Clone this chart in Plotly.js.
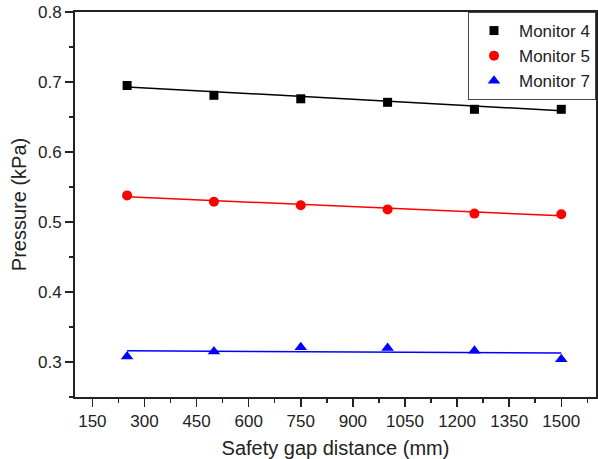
<!DOCTYPE html>
<html><head><meta charset="utf-8">
<script src="https://cdn.plot.ly/plotly-3.0.1.min.js"></script>
<style>html,body{margin:0;padding:0;background:#fff}#chart{width:598px;height:459px}</style>
</head><body><div id="chart"></div>
<script>
const distance = [250, 500, 750, 1000, 1250, 1500];
const monitor4 = [0.695, 0.681, 0.676, 0.671, 0.661, 0.661];
const monitor5 = [0.538, 0.529, 0.524, 0.518, 0.512, 0.511];
const monitor7 = [0.308, 0.315, 0.321, 0.320, 0.316, 0.304];
const fitX = [250, 1500];
const fit4 = [0.693, 0.659];
const fit5 = [0.536, 0.509];
const fit7 = [0.316, 0.313];
const xTicks = [150, 300, 450, 600, 750, 900, 1050, 1200, 1350, 1500];
const yTicks = [0.3, 0.4, 0.5, 0.6, 0.7, 0.8];

const font = 'Liberation Sans, Arial, sans-serif';
const traces = [
  {x: fitX, y: fit4, mode: 'lines', line: {color: '#000', width: 1.5}, showlegend: false, hoverinfo: 'skip'},
  {x: fitX, y: fit5, mode: 'lines', line: {color: '#ff0000', width: 1.5}, showlegend: false, hoverinfo: 'skip'},
  {x: fitX, y: fit7, mode: 'lines', line: {color: '#0000ff', width: 1.5}, showlegend: false, hoverinfo: 'skip'},
  {x: distance, y: monitor4, mode: 'markers', name: 'Monitor 4', marker: {symbol: 'square', size: 9, color: '#000'}},
  {x: distance, y: monitor5, mode: 'markers', name: 'Monitor 5', marker: {symbol: 'circle', size: 10, color: '#ff0000'}},
  {x: distance, y: monitor7, mode: 'markers', name: 'Monitor 7', marker: {symbol: 'triangle-up', size: 11, color: '#0000ff'}}
];
const layout = {
  width: 598, height: 459,
  margin: {l: 75, r: 2, t: 12, b: 62},
  paper_bgcolor: '#fff', plot_bgcolor: '#fff',
  font: {family: font, color: '#222', size: 17},
  showlegend: true,
  legend: {x: 1, xanchor: 'right', y: 1, yanchor: 'top', bordercolor: '#444', borderwidth: 1,
           bgcolor: '#fff', font: {size: 17, family: font, color: '#222'}, tracegroupgap: 0,
           itemwidth: 40},
  xaxis: {
    range: [100, 1600], tickvals: xTicks, ticktext: xTicks.map(String),
    ticks: 'outside', ticklen: 8, tickwidth: 1.5, tickcolor: '#222',
    showline: true, linecolor: '#222', linewidth: 2, mirror: true,
    showgrid: false, zeroline: false,
    minor: {dtick: 75, tick0: 75, ticks: 'outside', ticklen: 4, tickwidth: 1.5, tickcolor: '#222', showgrid: false},
    tickfont: {size: 17, family: font},
    title: {text: 'Safety gap distance (mm)', font: {size: 20, family: font}, standoff: 12}
  },
  yaxis: {
    range: [0.25, 0.8], tickvals: yTicks, ticktext: yTicks.map(v => v.toFixed(1)),
    ticks: 'outside', ticklen: 8, tickwidth: 1.5, tickcolor: '#222',
    showline: true, linecolor: '#222', linewidth: 2, mirror: true,
    showgrid: false, zeroline: false,
    minor: {dtick: 0.05, tick0: 0.25, ticks: 'outside', ticklen: 4, tickwidth: 1.5, tickcolor: '#222', showgrid: false},
    tickfont: {size: 17, family: font},
    title: {text: 'Pressure (kPa)', font: {size: 20, family: font}, standoff: 6}
  }
};
Plotly.newPlot('chart', traces, layout, {displayModeBar: false, staticPlot: true});
</script></body></html>
